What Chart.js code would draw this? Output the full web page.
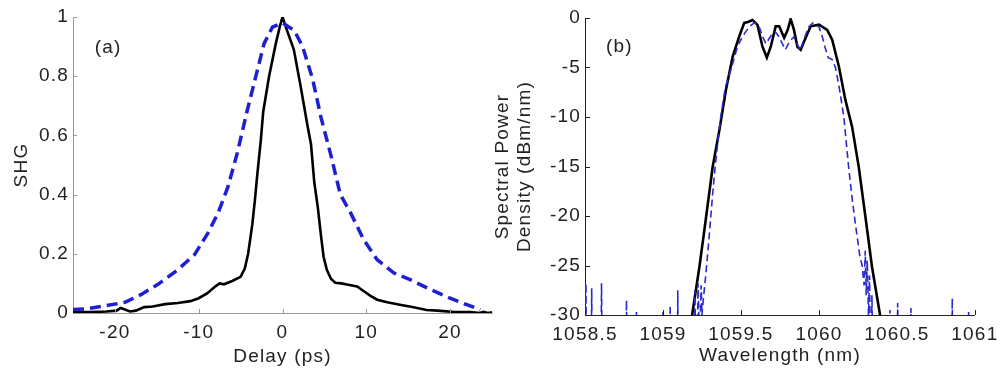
<!DOCTYPE html>
<html><head><meta charset="utf-8">
<script src="https://cdn.jsdelivr.net/npm/chart.js@4.4.0/dist/chart.umd.min.js"></script>
<style>
html,body{margin:0;padding:0;background:#fff;width:1004px;height:369px;overflow:hidden;}
#wa{position:absolute;left:0;top:0;width:500px;height:369px;}
#wb{position:absolute;left:484px;top:0;width:520px;height:369px;}
</style></head><body>
<div id="wa"><canvas id="ca"></canvas></div>
<div id="wb"><canvas id="cb"></canvas></div>
<script>
// ---- Panel (a): autocorrelation ----
const delayBlackX = [-25,-23,-21,-19.8,-19.3,-18.2,-17.5,-16.5,-15.5,-14,-12.5,-11,-10,-9,-8,-7.5,-7,-6,-5,-4.5,-4.1,-3.6,-3.3,-3.0,-2.6,-2.3,-1.6,-0.8,-0.3,0,0.6,1.35,2.2,3.0,3.4,3.8,4.2,4.6,4.9,5.3,5.8,6.3,7.0,7.7,8.9,9.8,10.5,11.3,12.5,14,15.5,17.2,18.5,20.6,22.5,23.5,24,24.5,25];
const shgBlack    = [0.003,0.003,0.005,0.008,0.017,0.005,0.008,0.02,0.022,0.03,0.034,0.04,0.05,0.066,0.09,0.1,0.097,0.108,0.122,0.15,0.2,0.3,0.38,0.47,0.58,0.68,0.8,0.91,0.97,1.0,0.95,0.89,0.76,0.63,0.57,0.44,0.36,0.26,0.19,0.145,0.115,0.102,0.1,0.096,0.09,0.072,0.058,0.045,0.036,0.028,0.02,0.01,0.008,0.003,0.003,0.0,0.004,0.0,0.002];
const delayBlueX  = [-25,-23.5,-21.6,-18.8,-16.9,-14.9,-12.5,-10.5,-8.9,-7.7,-6.5,-5.4,-4.2,-3.4,-2.2,-1.2,0,1.4,2.4,3.6,4.6,5.8,6.9,8.1,9.7,11.3,13.3,15.3,17.3,20.0,22.0,23.6];
const shgBlue     = [0.012,0.014,0.022,0.036,0.062,0.096,0.146,0.197,0.27,0.337,0.427,0.54,0.685,0.775,0.91,0.966,0.98,0.955,0.90,0.79,0.66,0.53,0.40,0.34,0.247,0.18,0.135,0.112,0.084,0.05,0.028,0.011];
const delayTicks = [-20,-10,0,10,20];
const shgTicks   = [0,0.2,0.4,0.6,0.8,1];

// ---- Panel (b): spectra ----
const wlBlackX = [1059.18,1059.187,1059.234,1059.277,1059.319,1059.362,1059.404,1059.447,1059.489,1059.521,1059.545,1059.574,1059.606,1059.638,1059.666,1059.691,1059.723,1059.745,1059.777,1059.8,1059.819,1059.84,1059.862,1059.883,1059.904,1059.947,1060.0,1060.053,1060.085,1060.128,1060.17,1060.213,1060.255,1060.298,1060.34,1060.392,1060.40];
const spdBlack = [-31,-30,-25.1,-20.05,-15.0,-11.3,-7.25,-3.9,-1.85,-0.5,-0.4,-0.2,-0.7,-2.9,-4.0,-2.9,-0.84,-0.84,-2.0,-1.2,-0.1,-1.2,-2.9,-3.2,-2.4,-0.84,-0.67,-1.2,-2.2,-4.9,-8.3,-11.0,-15.0,-20.05,-25.1,-30,-31];
const wlBlueX = [1058.50,1058.506,1058.512,1058.538,1058.543,1058.548,1058.600,1058.606,1058.612,1058.760,1058.766,1058.772,1058.825,1058.830,1058.835,1058.995,1059.0,1059.005,1059.041,1059.046,1059.051,1059.090,1059.095,1059.10,1059.19,1059.205,1059.215,1059.225,1059.235,1059.245,1059.25,
  1059.255,1059.268,1059.28,1059.294,1059.307,1059.32,1059.335,1059.352,1059.37,1059.385,1059.40,1059.42,1059.44,1059.47,1059.489,1059.51,1059.532,1059.56,1059.585,1059.60,1059.617,1059.64,1059.66,1059.68,1059.70,1059.72,1059.745,1059.765,1059.786,1059.81,1059.84,1059.86,1059.88,1059.91,1059.935,1059.96,1060.0,1060.02,1060.04,1060.06,1060.085,1060.106,1060.13,1060.16,1060.19,1060.215,1060.24,1060.262,1060.277,1060.29,1060.297,1060.303,1060.31,1060.318,1060.325,1060.332,1060.34,1060.35,
  1060.452,1060.456,1060.46,1060.50,1060.505,1060.51,1060.585,1060.59,1060.595,1060.85,1060.855,1060.86,1060.955,1060.96,1060.965,1061.0];
const spdBlue = [-40,-26.8,-40,-40,-27.3,-40,-40,-26.8,-40,-40,-28.5,-40,-40,-29.7,-40,-40,-29.7,-40,-40,-29.0,-40,-40,-27.5,-40,-40,-27.5,-40,-26.8,-33,-27,-30,
  -29,-27,-25,-22.5,-20,-17.5,-15,-12.5,-10,-8.5,-7,-6,-5,-3.3,-2.5,-1.9,-1.35,-0.8,-0.5,-0.6,-0.9,-1.9,-2.6,-2.1,-1.6,-1.4,-1.9,-2.6,-3.2,-2.4,-1.9,-2.6,-3.3,-1.9,-0.9,-0.5,-0.9,-1.8,-3.0,-4.0,-4.2,-5,-7,-10,-15,-18.5,-21.5,-24,-25,-27,-23.5,-28,-24.5,-30,-26,-40,-28,-40,
  -40,-29.5,-40,-40,-28.8,-40,-40,-29.3,-40,-40,-28.3,-40,-40,-29.7,-40,-40];
const wlTicks  = [1058.5,1059,1059.5,1060,1060.5,1061];
const spdTicks = [-30,-25,-20,-15,-10,-5,0];

const FONT = 'Liberation Sans, Arial, Helvetica, sans-serif';
const FS = 19;
const TXT = '#222';
const pts = (xs, ys) => xs.map((x, i) => ({x, y: ys[i]}));
const fmt = v => String(Math.round(v * 1000) / 1000);

const spacing = { id:'spacing', beforeDraw(chart){ chart.ctx.letterSpacing = '1.2px'; } };
const decor = {
  id: 'decor',
  afterDraw(chart, args, o) {
    const ctx = chart.ctx, xs = chart.scales.x, ys = chart.scales.y, a = chart.chartArea;
    ctx.save();
    ctx.strokeStyle = o.color; ctx.lineWidth = 1;
    ctx.beginPath();
    xs.ticks.forEach(t => { const p = Math.round(xs.getPixelForValue(t.value)) + 0.5; ctx.moveTo(p, a.bottom); ctx.lineTo(p, a.bottom - o.len); });
    ys.ticks.forEach(t => { const p = Math.round(ys.getPixelForValue(t.value)) + 0.5; ctx.moveTo(a.left, p); ctx.lineTo(a.left + o.len, p); });
    ctx.stroke();
    ctx.letterSpacing = '1.2px';
    ctx.fillStyle = TXT; ctx.font = FS + 'px ' + FONT; ctx.textAlign = 'center'; ctx.textBaseline = 'middle';
    ctx.fillText(o.label, xs.getPixelForValue(o.lx), ys.getPixelForValue(o.ly));
    ctx.restore();
  }
};

function makeChart(id, cfg) {
  return new Chart(document.getElementById(id), {
    type: 'line',
    data: { datasets: cfg.datasets },
    plugins: [spacing, decor],
    options: {
      responsive: true, maintainAspectRatio: false, animation: false,
      layout: { padding: cfg.padding },
      elements: { point: { radius: 0 }, line: { tension: 0 } },
      plugins: { legend: { display: false }, tooltip: { enabled: false }, decor: cfg.decor },
      scales: {
        x: {
          type: 'linear', min: cfg.xmin, max: cfg.xmax,
          afterBuildTicks: s => { s.ticks = cfg.xticks.map(v => ({value: v})); },
          afterFit: s => { s.height = cfg.xh; },
          grid: { display: false, drawTicks: false },
          border: { display: true, color: cfg.axisColor, width: 1 },
          ticks: { color: TXT, font: { size: FS, family: FONT }, padding: 8, maxRotation: 0, autoSkip: false, callback: fmt },
          title: { display: true, text: cfg.xtitle, color: TXT, font: { size: FS, family: FONT }, padding: { top: 0, bottom: cfg.xtpad } }
        },
        y: {
          type: 'linear', min: cfg.ymin, max: cfg.ymax,
          afterBuildTicks: s => { s.ticks = cfg.yticks.map(v => ({value: v})); },
          afterFit: s => { s.width = cfg.yw; },
          grid: { display: false, drawTicks: false },
          border: { display: true, color: cfg.axisColor, width: 1 },
          ticks: { color: TXT, font: { size: FS, family: FONT }, padding: 4, autoSkip: false, callback: fmt },
          title: { display: true, text: cfg.ytitle, color: TXT, font: { size: FS, family: FONT, lineHeight: 1.15 }, padding: { top: cfg.ytpad, bottom: 0 } }
        }
      }
    }
  });
}

makeChart('ca', {
  datasets: [
    { data: pts(delayBlueX, shgBlue), borderColor: '#1e1ed2', borderWidth: 3.5, borderDash: [11, 6], fill: false },
    { data: pts(delayBlackX, shgBlack), borderColor: '#000', borderWidth: 2.6, fill: false }
  ],
  padding: { top: 17, right: 8, left: 0, bottom: 0 },
  xmin: -25, xmax: 25, ymin: 0, ymax: 1,
  xticks: delayTicks, yticks: shgTicks,
  xh: 56, yw: 73, xtpad: 1, ytpad: 11,
  axisColor: '#999',
  xtitle: 'Delay (ps)', ytitle: 'SHG',
  decor: { color: '#999', len: 4, label: '(a)', lx: -20.8, ly: 0.895 }
});

makeChart('cb', {
  datasets: [
    { data: pts(wlBlueX, spdBlue), borderColor: '#2a2ad0', borderWidth: 1.6, borderDash: [7, 4], fill: false },
    { data: pts(wlBlackX, spdBlack), borderColor: '#000', borderWidth: 2.6, fill: false }
  ],
  padding: { top: 18, right: 27, left: 0, bottom: 0 },
  xmin: 1058.5, xmax: 1061, ymin: -30, ymax: 0,
  xticks: wlTicks, yticks: spdTicks,
  xh: 54, yw: 101, xtpad: 2, ytpad: 8,
  axisColor: '#222',
  xtitle: 'Wavelength (nm)', ytitle: ['Spectral Power', 'Density (dBm/nm)'],
  decor: { color: '#222', len: 5, label: '(b)', lx: 1058.72, ly: -2.9 }
});
</script>
</body></html>
